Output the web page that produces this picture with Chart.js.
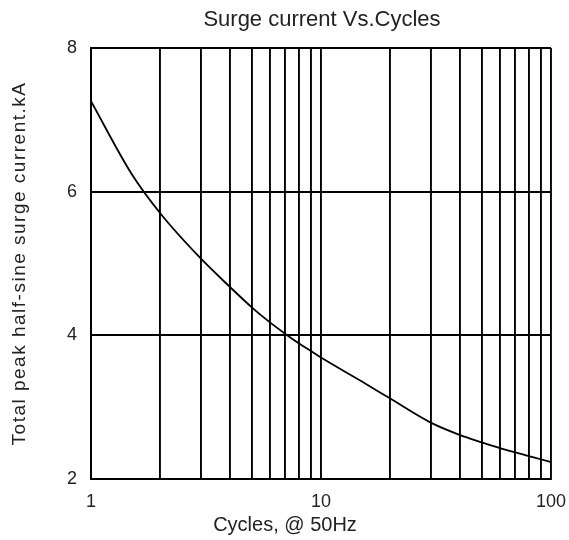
<!DOCTYPE html>
<html>
<head>
<meta charset="utf-8">
<script src="https://cdn.jsdelivr.net/npm/chart.js@4"></script>
<style>
  html, body { margin: 0; padding: 0; background: #fff; }
  #wrap { width: 569px; height: 540px; }
</style>
</head>
<body>
<div id="wrap"><canvas id="chart" width="569" height="540"></canvas></div>
<script>
// Surge current vs. cycles — curva (eixo X log)
const chartTitle = "Surge current Vs.Cycles";
const xAxisTitle = "Cycles, @ 50Hz";
const yAxisTitle = "Total peak half-sine surge current.kA";

const cycles = [1, 1.5, 2, 3, 4, 5, 6, 7, 8, 9, 10, 15, 20, 30, 40, 50, 60, 70, 80, 90, 100];
const surgeKA = [7.26, 6.25, 5.70, 5.07, 4.68, 4.39, 4.18, 4.02, 3.89, 3.785, 3.69, 3.36, 3.12, 2.785, 2.615, 2.51, 2.43, 2.37, 2.32, 2.275, 2.235];

const xGridValues = [1, 2, 3, 4, 5, 6, 7, 8, 9, 10, 20, 30, 40, 50, 60, 70, 80, 90, 100];
const xTickLabels = [1, 10, 100];
const yTickValues = [2, 4, 6, 8];

const FONT = "'Liberation Sans', Arial, sans-serif";
const TEXT = "#222";

// títulos desenhados à mão: no original não estão centrados no canvas
const titlesPlugin = {
  id: "titles",
  afterDraw(chart) {
    const { ctx, chartArea } = chart;
    const midX = (chartArea.left + chartArea.right) / 2;
    const midY = (chartArea.top + chartArea.bottom) / 2;
    ctx.save();
    ctx.fillStyle = TEXT;
    ctx.textAlign = "center";
    ctx.textBaseline = "middle";

    ctx.font = `22px ${FONT}`;
    ctx.fillText(chartTitle, midX + 1, 20);

    ctx.font = `20px ${FONT}`;
    ctx.fillText(xAxisTitle, midX - 36, 525);

    ctx.translate(19.5, midY);
    ctx.rotate(-Math.PI / 2);
    ctx.font = `19px ${FONT}`;
    ctx.letterSpacing = "1.5px";
    ctx.fillText(yAxisTitle, 0, 0);
    ctx.restore();
  },
};

new Chart(document.getElementById("chart"), {
  type: "line",
  data: {
    datasets: [{
      data: cycles.map((c, i) => ({ x: c, y: surgeKA[i] })),
      borderColor: "#000",
      borderWidth: 1.8,
      pointRadius: 0,
      cubicInterpolationMode: "monotone",
      fill: false,
    }],
  },
  plugins: [titlesPlugin],
  options: {
    responsive: false,
    animation: false,
    layout: { padding: { left: 0, right: 18, top: 48, bottom: 0 } },
    plugins: {
      legend: { display: false },
      tooltip: { enabled: false },
      title: { display: false },
    },
    scales: {
      x: {
        type: "logarithmic",
        min: 1,
        max: 100,
        afterBuildTicks: (scale) => { scale.ticks = xGridValues.map((v) => ({ value: v })); },
        afterFit: (scale) => {
          scale.height = 61;
          scale.paddingLeft = 0;
          scale.paddingRight = 0;
        },
        grid: { color: "#000", lineWidth: 1.9, drawTicks: false },
        border: { color: "#000", width: 2 },
        ticks: {
          autoSkip: false,
          maxRotation: 0,
          padding: 12,
          color: TEXT,
          font: { family: FONT, size: 18 },
          callback: (v) => (xTickLabels.includes(v) ? String(v) : ""),
        },
      },
      y: {
        min: 2,
        max: 8,
        afterBuildTicks: (scale) => { scale.ticks = yTickValues.map((v) => ({ value: v })); },
        afterFit: (scale) => {
          scale.width = 91;
          scale.paddingTop = 0;
          scale.paddingBottom = 0;
        },
        grid: { color: "#000", lineWidth: 1.9, drawTicks: false },
        border: { color: "#000", width: 2 },
        ticks: {
          padding: 14,
          color: TEXT,
          font: { family: FONT, size: 18 },
        },
      },
    },
  },
});
</script>
</body>
</html>
